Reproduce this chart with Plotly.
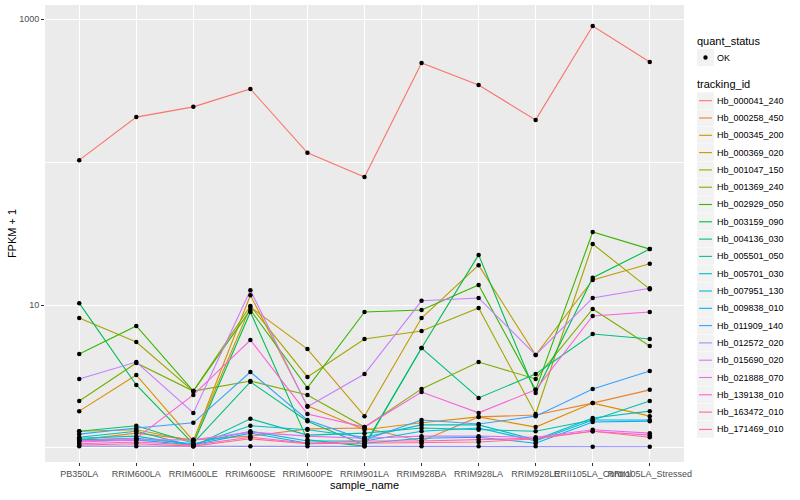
import plotly.graph_objects as go

samples = ["PB350LA", "RRIM600LA", "RRIM600LE", "RRIM600SE", "RRIM600PE", "RRIM901LA",
           "RRIM928BA", "RRIM928LA", "RRIM928LE", "RRII105LA_Control", "RRII105LA_Stressed"]

tracking_ids = ["Hb_000041_240", "Hb_000258_450", "Hb_000345_200", "Hb_000369_020",
                "Hb_001047_150", "Hb_001369_240", "Hb_002929_050", "Hb_003159_090",
                "Hb_004136_030", "Hb_005501_050", "Hb_005701_030", "Hb_007951_130",
                "Hb_009838_010", "Hb_011909_140", "Hb_012572_020", "Hb_015690_020",
                "Hb_021888_070", "Hb_139138_010", "Hb_163472_010", "Hb_171469_010"]

colors = ["#F8766D", "#EA8331", "#D89000", "#C09B00", "#A3A500", "#7CAE00", "#39B600",
          "#00BB4E", "#00BF7D", "#00C1A3", "#00BFC4", "#00BAE0", "#00B0F6", "#35A2FF",
          "#9590FF", "#C77CFF", "#E76BF3", "#FA62DB", "#FF62BC", "#FF6C91"]

quant_status = ["OK"]

# FPKM + 1 values, one list per tracking_id (order of samples above)
hb_000041_240 = [103, 206, 243, 324, 116, 78.5, 492, 345, 197, 893, 500]
hb_000258_450 = [1.14, 1.27, 1.14, 1.21, 1.36, 1.38, 1.12, 1.65, 1.70, 2.06, 2.55]
hb_000345_200 = [1.81, 3.24, 1.12, 11.7, 1.97, 1.34, 1.50, 1.65, 1.40, 2.06, 1.67]
hb_000369_020 = [1.31, 1.34, 1.12, 9.68, 4.92, 1.67, 8.11, 19.0, 4.47, 14.96, 19.4]
hb_001047_150 = [8.11, 5.51, 2.50, 9.84, 3.14, 5.78, 6.58, 9.53, 1.73, 26.7, 12.9]
hb_001369_240 = [2.13, 3.93, 2.50, 2.94, 2.35, 1.40, 2.59, 3.99, 3.04, 9.38, 5.17]
hb_002929_050 = [4.54, 7.13, 2.50, 9.23, 2.63, 8.93, 9.23, 13.8, 2.55, 32.4, 24.6]
hb_003159_090 = [10.3, 2.76, 1.07, 8.93, 1.14, 1.03, 5.00, 22.4, 2.42, 15.5, 24.6]
hb_004136_030 = [1.31, 1.43, 1.08, 2.90, 1.54, 1.05, 5.00, 2.24, 3.29, 6.27, 5.78]
hb_005501_050 = [1.19, 1.31, 1.03, 1.60, 1.23, 1.27, 1.38, 1.34, 1.31, 1.57, 2.13]
hb_005701_030 = [1.17, 1.21, 1.05, 1.43, 1.34, 1.19, 1.45, 1.45, 1.14, 1.62, 1.81]
hb_007951_130 = [1.14, 1.17, 1.07, 1.31, 1.12, 1.12, 1.31, 1.38, 1.12, 1.57, 1.57]
hb_009838_010 = [1.12, 1.14, 1.05, 1.27, 1.08, 1.08, 1.17, 1.19, 1.08, 1.52, 1.54]
hb_011909_140 = [1.25, 1.38, 1.50, 3.40, 1.57, 1.14, 1.57, 1.47, 1.67, 2.59, 3.45]
hb_012572_020 = [1.03, 1.03, 1.03, 1.03, 1.03, 1.03, 1.03, 1.03, 1.03, 1.02, 1.02]
hb_015690_020 = [3.04, 3.99, 1.76, 12.7, 1.94, 3.29, 10.7, 11.2, 4.47, 11.2, 13.1]
hb_021888_070 = [1.10, 1.14, 1.14, 1.29, 1.21, 1.17, 1.21, 1.21, 1.19, 1.34, 1.27]
hb_139138_010 = [1.12, 1.17, 2.35, 5.69, 1.73, 1.40, 2.46, 1.76, 2.55, 8.38, 8.93]
hb_163472_010 = [1.07, 1.10, 1.05, 1.19, 1.08, 1.12, 1.12, 1.14, 1.17, 1.31, 1.23]
hb_171469_010 = [1.05, 1.07, 1.03, 1.16, 1.07, 1.08, 1.08, 1.10, 1.16, 1.31, 1.19]

series = [hb_000041_240, hb_000258_450, hb_000345_200, hb_000369_020, hb_001047_150,
          hb_001369_240, hb_002929_050, hb_003159_090, hb_004136_030, hb_005501_050,
          hb_005701_030, hb_007951_130, hb_009838_010, hb_011909_140, hb_012572_020,
          hb_015690_020, hb_021888_070, hb_139138_010, hb_163472_010, hb_171469_010]

FONT = "Liberation Sans, Arial, sans-serif"
W, H = 800, 500
PL, PR, PT, PB = 45, 684, 5, 462  # panel edges in pixels


def px(x):
    return (x - PL) / (PR - PL)


def py(y):
    return (PB - y) / (PB - PT)


fig = go.Figure()

for tid, col, vals in zip(tracking_ids, colors, series):
    fig.add_trace(go.Scatter(
        x=samples, y=vals, mode="lines", name=tid,
        line=dict(color=col, width=1.1), showlegend=False))

all_x = [s for vals in series for s in samples]
all_y = [v for vals in series for v in vals]
fig.add_trace(go.Scatter(
    x=all_x, y=all_y, mode="markers", name=quant_status[0],
    marker=dict(color="black", size=4.5), showlegend=False))

# ---- ggplot-style legend drawn in paper coordinates ----
shapes = []
annotations = []
KEY_X0, KEY_X1 = 697, 714
TXT_X = 715

annotations.append(dict(text="quant_status", x=px(695), y=py(41), xref="paper", yref="paper",
                        xanchor="left", yanchor="middle", showarrow=False,
                        font=dict(size=11, color="black")))
shapes.append(dict(type="rect", xref="paper", yref="paper", x0=px(KEY_X0), x1=px(KEY_X1),
                   y0=py(49), y1=py(66), fillcolor="#F2F2F2", line=dict(width=0), layer="above"))
shapes.append(dict(type="circle", xref="paper", yref="paper", x0=px(703.3), x1=px(707.7),
                   y0=py(55.3), y1=py(59.7), fillcolor="black", line=dict(width=0), layer="above"))
annotations.append(dict(text=quant_status[0], x=px(TXT_X), y=py(57.5), xref="paper", yref="paper",
                        xanchor="left", yanchor="middle", showarrow=False,
                        font=dict(size=9, color="black")))

annotations.append(dict(text="tracking_id", x=px(695), y=py(84), xref="paper", yref="paper",
                        xanchor="left", yanchor="middle", showarrow=False,
                        font=dict(size=11, color="black")))
STEP = 17.3
for i, (tid, col) in enumerate(zip(tracking_ids, colors)):
    yc = 100.7 + STEP * i
    shapes.append(dict(type="rect", xref="paper", yref="paper", x0=px(KEY_X0), x1=px(KEY_X1),
                       y0=py(yc - 8.4), y1=py(yc + 8.4), fillcolor="#F2F2F2",
                       line=dict(width=0), layer="above"))
    shapes.append(dict(type="line", xref="paper", yref="paper", x0=px(699), x1=px(712),
                       y0=py(yc), y1=py(yc), line=dict(color=col, width=1.1), layer="above"))
    annotations.append(dict(text=tid, x=px(TXT_X), y=py(yc), xref="paper", yref="paper",
                            xanchor="left", yanchor="middle", showarrow=False,
                            font=dict(size=9, color="black")))

fig.update_layout(
    width=W, height=H,
    margin=dict(l=PL, r=W - PR, t=PT, b=H - PB),
    paper_bgcolor="white", plot_bgcolor="#EBEBEB",
    font=dict(family=FONT, size=9, color="#4D4D4D"),
    showlegend=False,
    shapes=shapes, annotations=annotations,
    xaxis=dict(
        type="category", categoryorder="array", categoryarray=samples,
        range=[-0.6, 10.6], showgrid=True, gridcolor="white", gridwidth=1.1,
        zeroline=False, showline=False, ticks="outside", ticklen=3, tickcolor="#333333",
        tickangle=0, automargin=False,
        tickfont=dict(size=9, color="#4D4D4D"),
        title=dict(text="sample_name", font=dict(size=11, color="black"), standoff=1)),
    yaxis=dict(
        type="log", range=[-0.098, 3.098],
        tickvals=[10, 1000], ticktext=["10", "1000"],
        showgrid=True, gridcolor="white", gridwidth=1.1, zeroline=False, showline=False,
        ticks="outside", ticklen=3, tickcolor="#333333", automargin=False,
        tickfont=dict(size=9, color="#4D4D4D"),
        minor=dict(tickvals=[1, 100], showgrid=True, gridcolor="white", gridwidth=0.5, ticks=""),
        title=dict(text="FPKM + 1", font=dict(size=11, color="black"), standoff=0)),
)

fig.write_html("out.html", config={"displayModeBar": False},
               post_script="document.body.style.margin='0';document.body.style.overflow='hidden';")
